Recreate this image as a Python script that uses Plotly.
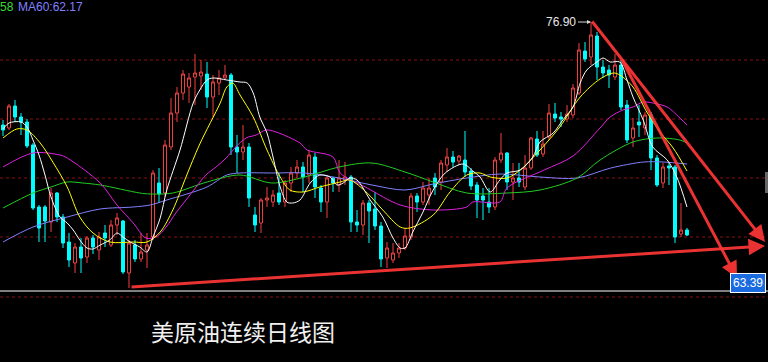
import plotly.graph_objects as go

# ---------------- data ----------------
days = list(range(115))

opens = [71.75, 71.60, 72.70, 72.15, 71.90, 70.75, 67.65, 67.65, 66.90, 68.35,
         67.15, 65.90, 64.85, 65.65, 65.15, 66.10, 65.50, 66.35, 65.75, 66.75,
         66.95, 64.35, 65.75, 65.05, 65.50, 66.15, 68.85, 68.35, 70.65, 72.35,
         73.35, 73.65, 74.15, 74.20, 74.30, 73.15, 73.85, 74.10, 74.25, 70.65,
         70.40, 70.65, 67.25, 66.85, 68.00, 67.90, 68.35, 67.90, 68.85, 69.35,
         69.65, 69.25, 70.15, 68.60, 67.90, 69.10, 68.75, 69.00, 69.15, 66.90,
         66.75, 67.85, 67.55, 66.70, 65.10, 65.00, 65.35, 65.60, 66.15, 68.20,
         67.90, 68.25, 69.10, 68.90, 69.75, 70.15, 69.95, 70.00, 69.45, 68.75,
         68.20, 67.90, 67.65, 70.00, 70.35, 68.90, 69.10, 68.65, 69.60, 71.05,
         70.30, 71.15, 72.30, 72.15, 72.05, 72.25, 73.35, 75.45, 75.15, 76.20,
         74.65, 74.50, 74.15, 74.75, 72.75, 71.10, 71.90, 71.60, 72.25, 70.10,
         68.85, 69.70, 69.65, 66.30, 66.50]

highs = [72.00, 72.80, 73.00, 72.35, 72.05, 70.85, 67.75, 67.75, 68.60, 68.40,
         67.30, 66.35, 65.85, 66.10, 66.20, 66.25, 66.40, 66.75, 67.00, 67.35,
         67.00, 66.00, 66.00, 66.35, 66.35, 69.50, 69.60, 71.00, 73.10, 73.65,
         74.50, 74.35, 75.30, 75.00, 74.90, 74.25, 74.50, 74.75, 74.35, 71.25,
         71.75, 70.85, 67.65, 68.10, 68.65, 68.50, 69.35, 69.00, 69.65, 70.00,
         69.90, 70.50, 70.35, 68.75, 69.25, 69.15, 70.00, 69.90, 69.25, 67.50,
         68.00, 68.00, 68.40, 66.90, 65.90, 65.85, 65.85, 66.60, 68.35, 68.35,
         68.90, 69.10, 69.35, 70.00, 70.60, 70.45, 70.25, 71.45, 69.60, 68.90,
         68.60, 68.60, 70.15, 71.35, 70.40, 69.85, 69.85, 70.25, 71.15, 71.45,
         71.45, 72.80, 72.85, 72.40, 72.75, 73.80, 75.85, 75.90, 76.90, 76.40,
         75.00, 74.75, 75.30, 75.00, 73.00, 72.10, 72.75, 72.40, 72.40, 70.25,
         69.85, 69.90, 69.75, 67.85, 66.60]

lows = [71.20, 71.50, 71.90, 71.25, 70.60, 67.50, 65.90, 65.90, 66.40, 66.90,
        65.60, 64.65, 64.35, 64.35, 64.85, 65.30, 65.00, 65.65, 65.65, 66.25,
        64.30, 63.60, 64.90, 64.90, 64.60, 66.00, 67.85, 68.15, 70.50, 71.90,
        73.00, 72.85, 72.75, 73.50, 72.60, 72.15, 73.25, 74.00, 70.25, 69.35,
        70.00, 67.65, 66.40, 66.35, 67.65, 67.65, 67.75, 67.65, 68.40, 69.10,
        68.40, 68.85, 68.10, 67.40, 67.10, 68.40, 68.40, 68.75, 66.40, 66.40,
        66.25, 65.85, 66.50, 64.65, 64.60, 64.85, 65.10, 65.50, 66.00, 67.40,
        67.75, 67.75, 68.25, 68.50, 69.40, 69.65, 69.75, 69.15, 68.50, 67.10,
        67.00, 67.35, 67.50, 69.85, 68.50, 68.00, 68.65, 68.50, 69.50, 70.15,
        70.15, 71.00, 71.90, 71.65, 71.90, 72.10, 73.25, 74.90, 74.75, 74.00,
        74.10, 73.60, 74.00, 72.50, 70.85, 70.65, 71.15, 71.25, 69.50, 68.65,
        68.60, 68.75, 65.85, 66.15, 66.20]

closes = [71.50, 72.70, 72.15, 71.90, 70.70, 67.60, 66.60, 66.95, 68.35, 67.15,
          65.85, 65.00, 65.65, 65.10, 66.10, 65.65, 66.15, 66.10, 66.75, 67.10,
          64.40, 65.85, 65.05, 65.40, 65.75, 69.35, 68.30, 70.75, 72.35, 73.35,
          74.30, 74.10, 74.35, 74.40, 73.15, 73.90, 74.10, 74.25, 70.65, 70.40,
          70.65, 68.10, 66.75, 68.00, 68.10, 68.25, 67.90, 68.85, 69.35, 69.65,
          69.15, 70.25, 68.65, 67.90, 69.10, 68.85, 69.10, 69.15, 66.90, 66.75,
          67.85, 67.45, 66.70, 65.05, 65.60, 65.35, 65.60, 66.20, 68.20, 67.90,
          68.60, 68.60, 68.65, 69.85, 70.15, 69.90, 70.20, 69.40, 68.70, 68.00,
          68.00, 67.65, 70.00, 70.35, 68.90, 69.10, 68.90, 69.60, 71.10, 70.25,
          70.80, 72.35, 72.10, 72.05, 72.30, 73.60, 75.50, 75.05, 76.25, 74.65,
          74.35, 74.25, 74.75, 72.65, 71.00, 71.60, 71.75, 72.25, 70.10, 68.75,
          69.65, 69.60, 66.15, 66.50, 66.25]

# moving-average lines (candle index, price)
ma5_x = [0, 1, 3, 4, 5, 6, 7, 8, 9.5, 10.7, 11.7, 12.8, 14, 15, 16.2, 17.8, 19, 20, 21.2, 22.8,
         24, 25, 26.2, 27.3, 29.5, 31.7, 32.8, 34, 35, 37.3, 39.5, 40.7, 41.7, 42.8, 44, 45, 46.2, 47.3, 48.3, 49.5,
         51.2, 52.8, 54.5, 55.7, 56.7, 57.8, 59, 60, 61.2, 63.3, 65, 66.2, 67, 68.3, 70, 71.7, 73.7, 76.7, 78.3, 79.5,
         81.2, 82.8, 84, 86.2, 88.3, 89.5, 91.7, 93.3, 95, 96.2, 97.3, 99, 100, 101.2, 102.8, 104, 105, 106.7, 108.3, 110.7,
         112.3, 114]
ma5_y = [71.55, 71.85, 71.90, 71.65, 71.00, 70.25, 69.25, 68.15, 67.15, 66.85, 66.50, 66.00, 65.60, 65.55, 65.75, 66.00, 66.35, 66.15, 65.90, 65.65,
         65.40, 66.15, 67.10, 68.50, 70.50, 72.85, 73.50, 74.00, 74.10, 74.00, 73.90, 73.85, 73.35, 72.15, 71.35, 70.15, 68.65, 67.90, 67.85, 68.00,
         68.85, 69.25, 69.15, 68.75, 68.85, 69.10, 69.00, 68.60, 68.00, 67.15, 66.10, 65.60, 65.60, 66.40, 67.40, 68.50, 69.35, 69.80, 69.45, 69.15,
         68.40, 69.00, 69.35, 69.50, 70.15, 70.90, 71.35, 72.00, 72.65, 73.85, 74.50, 74.90, 75.10, 74.90, 74.90, 74.00, 73.15, 72.00, 70.65, 70.00,
         69.15, 67.65]

ma10_x = [0, 2.3, 4, 6.2, 8.3, 10.7, 12.8, 15, 17.8, 21.7, 24, 26.2, 28.3, 30.5, 32.8, 36.2, 37.3, 38.3, 39.5, 41.7,
          44, 46.2, 47.8, 50, 52.8, 56.2, 57.8, 60.7, 63.3, 66.2, 67.8, 71.7, 74.5, 77.3, 79.5, 81.2, 84, 86.2, 89.5, 92.8,
          96.2, 99.5, 101.7, 102.8, 105, 107.3, 109.5, 111.7, 114]
ma10_y = [71.10, 71.55, 71.50, 70.85, 69.90, 68.65, 67.15, 66.35, 65.90, 65.90, 65.90, 66.40, 67.50, 69.15, 70.80, 72.85, 73.65, 73.85, 73.25, 72.15,
          70.50, 69.15, 68.50, 68.40, 68.65, 68.90, 69.00, 68.35, 67.50, 66.65, 66.60, 67.25, 68.40, 69.25, 69.35, 69.15, 69.10, 69.50, 70.50, 71.65,
          73.15, 74.05, 74.35, 74.25, 73.65, 72.40, 71.40, 70.60, 69.45]

ma20_x = [0, 5, 9.5, 10.7, 16.2, 19, 21.7, 23.8, 25.5, 27.2, 28.8, 30.5, 32.2, 33.8, 35.5, 37.2, 38.8, 40.5, 42.2, 43.8,
          45.5, 49.5, 50.7, 55, 56.2, 60.7, 66.2, 71.7, 77.3, 78.3, 82.8, 84, 90.2, 95, 99.5, 101.2, 103.3, 105, 106.7, 108.3,
          110.7, 112.3, 114]
ma20_y = [69.65, 70.35, 70.25, 70.10, 68.85, 67.75, 66.85, 66.10, 66.15, 66.65, 67.35, 68.00, 68.65, 69.25, 69.65, 70.10, 70.65, 71.10, 71.25, 71.50,
          71.40, 70.85, 70.50, 70.15, 69.35, 68.60, 67.75, 67.50, 67.65, 67.90, 67.90, 68.60, 69.50, 70.20, 71.60, 72.15, 72.50, 72.65, 72.90, 72.85,
          72.65, 72.25, 71.75]

ma40_x = [0, 5, 8, 10.7, 13.3, 16.2, 22.8, 24.5, 28.3, 34, 39.5, 44.8, 50.3, 56, 61.5, 67, 71.7, 77.3, 84, 89.5,
          95.7, 99.5, 105, 109, 112.8, 114]
ma40_y = [67.60, 68.35, 68.65, 68.90, 68.85, 68.75, 68.35, 68.30, 68.35, 68.90, 69.25, 68.85, 69.15, 69.65, 69.85, 69.40, 68.90, 68.35, 68.35, 68.50,
          69.10, 70.00, 70.90, 71.10, 71.00, 70.85]

ma60_x = [0, 5, 10.7, 16.2, 21.7, 24.5, 27.3, 34, 37.3, 39.5, 44.8, 50.3, 56, 61.5, 67, 71.7, 77.3, 82.8, 89.5, 95.7,
          101.3, 106.8, 110, 114]
ma60_y = [65.90, 66.65, 67.15, 67.55, 67.65, 67.75, 68.00, 68.65, 69.25, 69.35, 69.35, 69.35, 69.10, 68.75, 68.50, 68.80, 69.10, 69.30, 69.15, 69.10,
          69.60, 69.90, 69.90, 69.80]

grid_levels = [75.0, 72.05, 69.1, 66.15, 63.15]
base_level = 63.45

peak_idx, peak_val = 98, 76.90
title_text = "美原油连续日线图"
legend_tail = "58"
legend_ma60 = "MA60:62.17"
price_box = "63.39"

# trend lines (start idx, start price, end idx, end price)
trend_lines = [
    (21.17, 63.65, 127.0, 65.70),
    (98.0, 77.00, 127.0, 65.90),
    (103.0, 75.10, 122.33, 64.10),
]

# ---------------- figure ----------------
fig = go.Figure()

fig.add_trace(go.Candlestick(
    x=days, open=opens, high=highs, low=lows, close=closes,
    increasing=dict(line=dict(color="#f04040", width=1), fillcolor="#000000"),
    decreasing=dict(line=dict(color="#00ffff", width=1), fillcolor="#00ffff"),
    whiskerwidth=0, hoverinfo="skip", showlegend=False,
))

ma_specs = [
    (ma60_x, ma60_y, "#8080ff"),
    (ma40_x, ma40_y, "#22cc22"),
    (ma20_x, ma20_y, "#e020e0"),
    (ma10_x, ma10_y, "#ffff00"),
    (ma5_x, ma5_y, "#ffffff"),
]
for xs, ys, col in ma_specs:
    fig.add_trace(go.Scatter(x=xs, y=ys, mode="lines",
                             line=dict(color=col, width=1, shape="spline", smoothing=0.9),
                             hoverinfo="skip", showlegend=False))

shapes = []
for g in grid_levels:
    shapes.append(dict(type="line", xref="paper", x0=0, x1=1, yref="y", y0=g, y1=g,
                       line=dict(color="#8a1010", width=1, dash="dot"), layer="below"))
shapes.append(dict(type="line", xref="paper", x0=0, x1=1, yref="y", y0=base_level, y1=base_level,
                   line=dict(color="#ffffff", width=1)))
shapes.append(dict(type="rect", xref="paper", x0=765 / 768, x1=1, yref="paper",
                   y0=1 - 193 / 362, y1=1 - 172 / 362, fillcolor="#666666", line=dict(width=0)))

annotations = []
for (x0, y0, x1, y1) in trend_lines:
    annotations.append(dict(x=x1, y=y1, ax=x0, ay=y0, xref="x", yref="y", axref="x", ayref="y",
                            text="", showarrow=True, arrowhead=2, arrowsize=1.1, arrowwidth=3,
                            arrowcolor="rgba(255,55,55,0.92)"))

annotations.append(dict(x=peak_idx, y=peak_val, xref="x", yref="y", text=str("%.2f" % peak_val),
                        showarrow=True, ax=-13, ay=0, arrowhead=2, arrowsize=0.8, arrowwidth=1,
                        arrowcolor="#d8d8d8", xanchor="right",
                        font=dict(family="Liberation Sans, Arial", size=12, color="#e8e8e8")))

annotations.append(dict(x=0, y=1 - 7 / 362, xref="paper", yref="paper", text=legend_tail,
                        showarrow=False, xanchor="left", yanchor="middle", xshift=-2,
                        font=dict(family="Liberation Sans, Arial", size=12, color="#33dd33")))
annotations.append(dict(x=18 / 768, y=1 - 7 / 362, xref="paper", yref="paper", text=legend_ma60,
                        showarrow=False, xanchor="left", yanchor="middle", xshift=-2,
                        font=dict(family="Liberation Sans, Arial", size=12, color="#8080ff")))

annotations.append(dict(x=243 / 768, y=1 - 331 / 362, xref="paper", yref="paper", text=title_text,
                        showarrow=False, xanchor="center", yanchor="middle",
                        font=dict(family="Noto Sans CJK SC", size=23, color="#f0f0f0")))

annotations.append(dict(x=766 / 768, y=1 - 283 / 362, xref="paper", yref="paper", text=price_box,
                        showarrow=False, xanchor="right", yanchor="middle",
                        bgcolor="#1a6ae0", bordercolor="#ffffff", borderwidth=1, borderpad=2,
                        font=dict(family="Liberation Sans, Arial", size=12, color="#ffffff")))

fig.update_layout(
    width=768, height=362, autosize=False,
    margin=dict(l=0, r=0, t=0, b=0, pad=0),
    paper_bgcolor="#000000", plot_bgcolor="#000000",
    xaxis=dict(range=[-0.5, 127.5], visible=False, rangeslider=dict(visible=False), fixedrange=True),
    yaxis=dict(range=[59.9, 78.0], visible=False, fixedrange=True),
    shapes=shapes, annotations=annotations,
    showlegend=False, hovermode=False,
)

fig.write_html("out.html", config={"displayModeBar": False},
               post_script="document.body.style.margin='0';document.body.style.background='#000';")
